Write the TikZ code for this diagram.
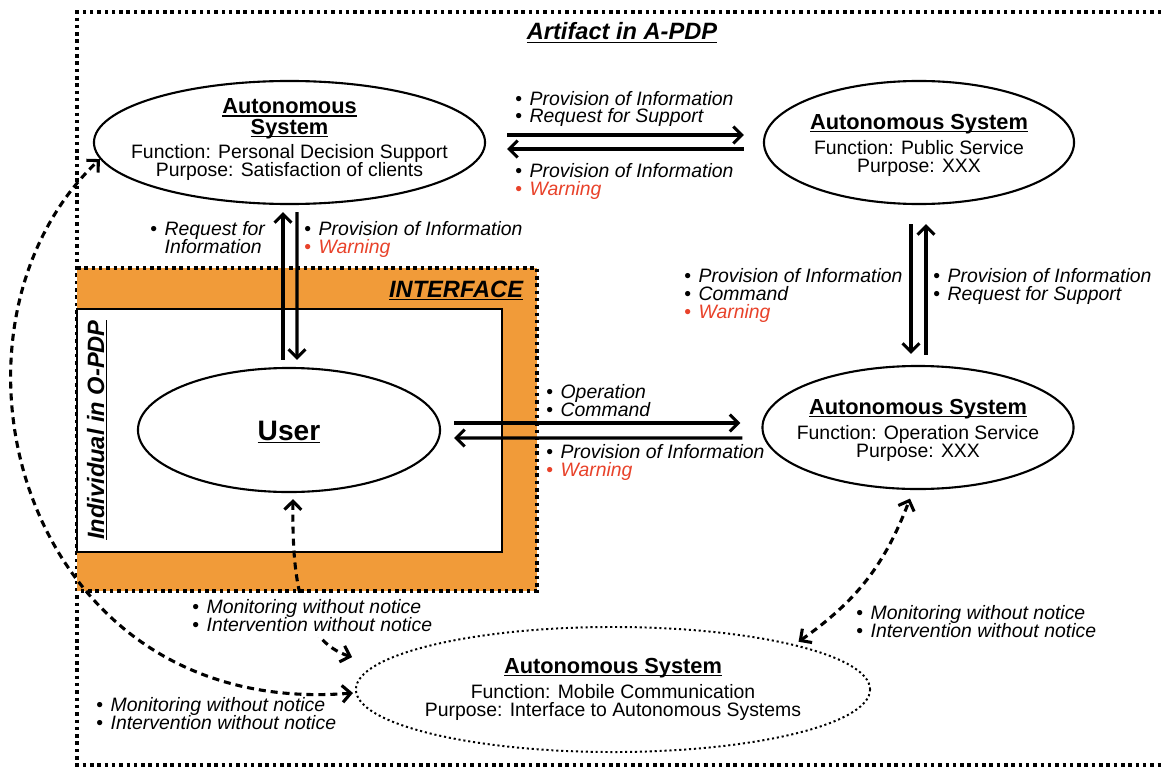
\documentclass[tikz,border=0pt]{standalone}
\usepackage{fontspec}
\setmainfont{Liberation Sans}
\usetikzlibrary{arrows.meta,calc,shapes.geometric}

\definecolor{ifaceorange}{RGB}{241,155,57}
\definecolor{warnred}{RGB}{232,66,42}

\newcommand{\bodysize}{\fontsize{13.8pt}{12.76pt}\selectfont}
\newcommand{\headfont}{\fontsize{15.5pt}{14.9pt}\selectfont\bfseries}
\newcommand{\bigfont}{\fontsize{16.8pt}{18pt}\selectfont\bfseries\itshape}
\newcommand{\undl}[1]{\setbox0\hbox{#1}\rlap{\rule[-2.3pt]{\wd0}{0.9pt}}\box0}
\newcommand{\bul}[1]{\makebox[10.2pt][l]{\upshape\textbullet}\textit{#1}}
\newcommand{\cont}[1]{\hspace*{10.2pt}\textit{#1}}
\newcommand{\warnitem}{{\color{warnred}\bul{Warning}}}
\lineskiplimit=-\maxdimen

\begin{document}
\begin{tikzpicture}[x=0.025cm,y=-0.025cm,
  sysell/.style={ellipse,draw,line width=1.5pt,inner sep=0pt},
  systext/.style={align=center,inner sep=0pt,font=\bodysize,anchor=base},
  lbl/.style={align=left,inner sep=0pt,font=\bodysize,anchor=base west},
  arr/.style={line width=2.2pt,-{Straight Barb[length=6pt,width=12pt]}},
  dasharr/.style={line width=2.2pt,dash pattern=on 5pt off 3.5pt,
    {Straight Barb[length=6pt,width=12pt]}-{Straight Barb[length=6pt,width=12pt]}},
  dotline/.style={line width=2.5pt,dash pattern=on 2.5pt off 2.7pt}]

\useasboundingbox (0,0) rectangle (1161,768);

\begin{scope}[dotline] % Frame for A-PDP
  \draw (1161,12) -- (77,12) -- (77,765) -- (1161,765);
\end{scope}
\node[font=\bigfont,anchor=base] (artifact) at (622,40) {\undl{Artifact in A-PDP}};

\begin{scope} % Interface around the individual
  \fill[ifaceorange] (77,268) rectangle (537,591);
  \draw[dotline] (77,268) -- (537,268) -- (537,591) -- (77,591);
  \draw[fill=white,line width=1.9pt] (77,309) rectangle (502,552);
  \node[font=\bigfont,anchor=base east] (iface) at (528,297) {\undl{INTERFACE}};
  \node[font=\bigfont,anchor=base,rotate=90] (indiv) at (104,430)
    {\undl{Individual in O-PDP}};
\end{scope}

\begin{scope} % Systems and user (text base = last line)
  \node[sysell,minimum width=9.775cm,minimum height=3.075cm] (as1) at (289.5,142.5) {};
  \node[sysell,minimum width=7.75cm,minimum height=3.075cm] (as2) at (919,142.5) {};
  \node[sysell,minimum width=7.775cm,minimum height=3.075cm] (as3) at (918,427.5) {};
  \node[sysell,minimum width=7.55cm,minimum height=3.1cm] (user) at (289,430) {};
  \node[sysell,line width=1.4pt,dash pattern=on 1.5pt off 2pt,
    minimum width=12.85cm,minimum height=3.125cm] (as4) at (613,689.5) {};

  \node[systext] (as1txt) at (289.5,176) {{\headfont\undl{Autonomous}}\\[2.1pt]
    {\headfont\undl{System}}\\[4.2pt]Function: Personal Decision Support\\
    Purpose: Satisfaction of clients};
  \node[systext] (as2txt) at (919,172) {{\headfont\undl{Autonomous System}}\\[5pt]
    Function: Public Service\\Purpose: XXX};
  \node[systext] (as3txt) at (918,457) {{\headfont\undl{Autonomous System}}\\[5pt]
    Function: Operation Service\\Purpose: XXX};
  \node[systext] (as4txt) at (613,716) {{\headfont\undl{Autonomous System}}\\[5pt]
    Function: Mobile Communication\\Purpose: Interface to Autonomous Systems};
  \node[systext,font=\fontsize{20pt}{22pt}\selectfont\bfseries] (usertxt) at (289,440)
    {\undl{User}};
\end{scope}

\begin{scope} % Solid exchanges
  \draw[arr] ($(as1.east)+(21,-7.5)$) -- ($(as2.west)+(-19,-7.5)$);
  \draw[arr] ($(as2.west)+(-19,6.5)$) -- ($(as1.east)+(21,6.5)$);
  \draw[arr] ($(user.north)+(-6,-7)$) -- ($(as1.south)+(-6.5,7)$);
  \draw[arr] ($(as1.south)+(7.5,7)$) -- ($(user.north)+(8,-7)$);
  \draw[arr] ($(as2.south)+(-8,19)$) -- ($(as3.north)+(-7,-11)$);
  \draw[arr] ($(as3.north)+(8,-10)$) -- ($(as2.south)+(7,19)$);
  \draw[arr] ($(user.east)+(13,-7)$) -- ($(as3.west)+(-21,-4.5)$);
  \draw[arr] ($(as3.west)+(-19,10.5)$) -- ($(user.east)+(13,8)$);
\end{scope}

\begin{scope} % Hidden monitoring
  \draw[dasharr] ($(as4.west)+(-2,3.5)$) .. controls (20,720) and (-80,330) .. (as1.185);
  \draw[dasharr] ($(as4.173)+(-30,-4)$) .. controls (300,640) and (292,580)
    .. ($(user.south)+(4,6)$);
  \draw[dasharr] ($(as4.15)+(11,-1)$) to[bend right=17] ($(as3.south)+(-8,8.5)$);
\end{scope}

\begin{scope} % Labels (base = last line)
  \node[lbl] (l12up) at (515,123) {\bul{Provision of Information}\\\bul{Request for Support}};
  \node[lbl] (l12dn) at (515,195) {\bul{Provision of Information}\\\warnitem};
  \node[lbl] (lu1l) at (150,253) {\bul{Request for}\\\cont{Information}};
  \node[lbl] (lu1r) at (304,253) {\bul{Provision of Information}\\\warnitem};
  \node[lbl] (l23l) at (684,318) {\bul{Provision of Information}\\\bul{Command}\\\warnitem};
  \node[lbl] (l23r) at (933,300) {\bul{Provision of Information}\\\bul{Request for Support}};
  \node[lbl] (lu3up) at (546,416) {\bul{Operation}\\\bul{Command}};
  \node[lbl] (lu3dn) at (546,476) {\bul{Provision of Information}\\\warnitem};
  \node[lbl,fill=white,inner ysep=4pt] (lmonu) at (192,631)
    {\bul{Monitoring without notice}\\\bul{Intervention without notice}};
  \node[lbl] (lmon3) at (856,637) {\bul{Monitoring without notice}\\\bul{Intervention without notice}};
  \node[lbl] (lmonl) at (96,729) {\bul{Monitoring without notice}\\\bul{Intervention without notice}};
\end{scope}

\end{tikzpicture}
\end{document}
